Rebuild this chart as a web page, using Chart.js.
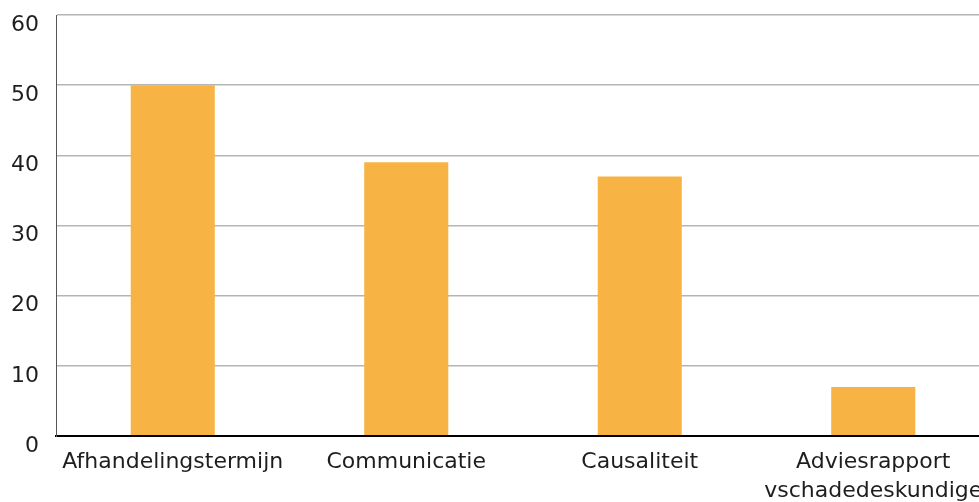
<!DOCTYPE html>
<html>
<head>
<meta charset="utf-8">
<script src="https://cdn.jsdelivr.net/npm/chart.js@4"></script>
<style>
  html, body { margin: 0; padding: 0; background: #fff; overflow: hidden; }
  #wrap { width: 990px; height: 502px; }
</style>
</head>
<body>
<div id="wrap"><canvas id="c" width="990" height="502"></canvas></div>
<script>
const categories = [
  'Afhandelingstermijn',
  'Communicatie',
  'Causaliteit',
  ['Adviesrapport', 'vschadedeskundige']
];
const values = [50, 39, 37, 7];
const yTicks = [0, 10, 20, 30, 40, 50, 60];

const FONT = 'DejaVu Sans';

new Chart(document.getElementById('c'), {
  type: 'bar',
  data: {
    labels: categories,
    datasets: [{
      data: values,
      backgroundColor: '#F8B345',
      borderWidth: 0,
      barPercentage: 0.36,
      categoryPercentage: 1
    }]
  },
  options: {
    responsive: false,
    animation: false,
    devicePixelRatio: 1,
    layout: { padding: { top: 15, left: 0, right: 0, bottom: 0 } },
    plugins: { legend: { display: false }, tooltip: { enabled: false } },
    scales: {
      x: {
        grid: { display: false, drawTicks: false },
        border: { color: '#000', width: 2 },
        ticks: {
          color: '#1e1e1e',
          font: { family: FONT, size: 22, lineHeight: 1.32 },
          padding: 12,
          maxRotation: 0,
          autoSkip: false
        },
        afterFit: s => { s.height = 66; s.paddingLeft = 0; s.paddingRight = 0; }
      },
      y: {
        min: 0,
        max: 60,
        afterBuildTicks: s => { s.ticks = yTicks.map(v => ({ value: v })); },
        grid: {
          drawTicks: false,
          color: ctx => ctx.tick && ctx.tick.value === 0 ? '#000' : '#b5b5b5',
          lineWidth: ctx => ctx.tick && ctx.tick.value === 0 ? 2 : 1.5
        },
        border: { color: '#555', width: 1 },
        ticks: {
          color: '#1e1e1e',
          font: { family: FONT, size: 22 },
          padding: 17,
          labelOffset: 10
        },
        afterFit: s => { s.width = 56; s.paddingTop = 0; s.paddingBottom = 0; }
      }
    }
  }
});
</script>
</body>
</html>
